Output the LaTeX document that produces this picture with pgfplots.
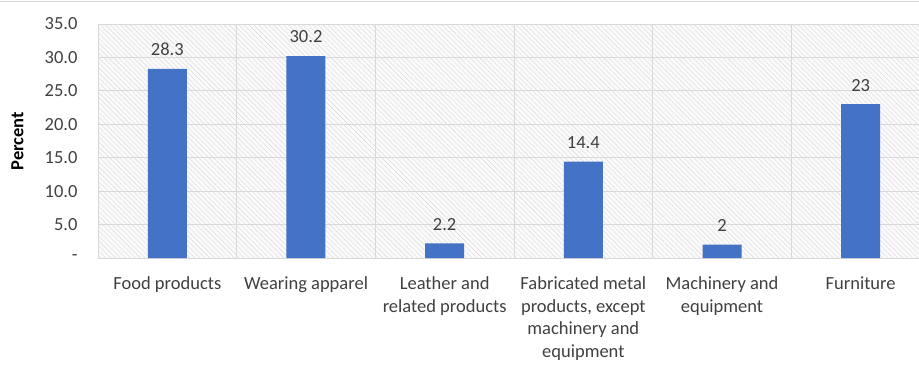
\documentclass[border=0pt]{standalone}
\usepackage{pgfplots}
\pgfplotsset{compat=1.18}
\usepackage{fontspec}
\setmainfont{Carlito}
\usetikzlibrary{patterns.meta}
\definecolor{barblue}{HTML}{4472C4}
\definecolor{txt}{HTML}{404040}
\definecolor{gridc}{HTML}{D9D9D9}
\begin{document}
\begin{tikzpicture}[x=1pt,y=1pt]
\useasboundingbox (-98,-107) rectangle (821,258);
\clip (-98,-107) rectangle (821,258);
\draw[gridc, line width=0.8pt] (-98,256.5) -- (821,256.5);
\begin{axis}[
  at={(0,0)}, anchor=south west,
  scale only axis, width=832pt, height=234pt,
  xmin=-0.5, xmax=5.5, ymin=0, ymax=35,
  xtick={0,1,2,3,4,5},
  xticklabels={Food products, Wearing apparel, {Leather and\\related products}, {Fabricated metal\\products, except\\machinery and\\equipment}, {Machinery and\\equipment}, Furniture},
  xticklabel style={align=center, font=\fontsize{18.5}{22.7}\selectfont, text=txt, yshift=-15pt},
  minor xtick={-0.5,0.5,1.5,2.5,3.5,4.5,5.5},
  xminorgrids, ymajorgrids,
  grid style={gridc, line width=0.8pt},
  minor grid style={gridc, line width=0.8pt},
  ytick={0,5,10,15,20,25,30,35},
  yticklabels={-, 5.0, 10.0, 15.0, 20.0, 25.0, 30.0, 35.0},
  yticklabel style={font=\fontsize{18.5}{21}\selectfont, text=txt, xshift=-17pt},
  major tick length=0pt, minor tick length=0pt,
  axis x line*=bottom, axis y line*=left,
  x axis line style={gridc, line width=0.8pt},
  y axis line style={draw=none},
  axis background/.style={fill=gray!4, postaction={pattern={Lines[angle=-45,distance=3.5pt,line width=0.4pt]}, pattern color=gray!28}},
  ylabel={\textbf{Percent}},
  every axis y label/.style={at={(rel axis cs:-0.0968,0.5)}, rotate=90, anchor=center, font=\fontsize{18.5}{21}\selectfont, text=black},
  ybar, bar width=39pt,
  point meta=explicit symbolic,
  nodes near coords,
  every node near coord/.append style={font=\fontsize{18.5}{21}\selectfont, text=txt, anchor=south, yshift=9.5pt},
]
\addplot[fill=barblue, draw=none] coordinates {
  (0,28.3) [28.3]
  (1,30.2) [30.2]
  (2,2.2) [2.2]
  (3,14.4) [14.4]
  (4,2) [2]
  (5,23) [23]
};
\end{axis}
\end{tikzpicture}
\end{document}
